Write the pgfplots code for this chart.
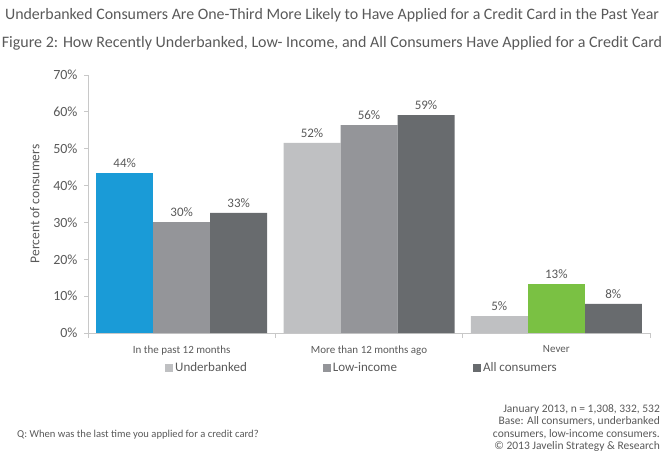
\documentclass[border=0pt]{standalone}
\usepackage{pgfplots}
\pgfplotsset{compat=1.18}
\usepackage{fontspec}
\setmainfont{Carlito}
\definecolor{txt}{RGB}{89,89,89}
\definecolor{ub}{RGB}{191,192,194}
\definecolor{li}{RGB}{148,149,153}
\definecolor{ac}{RGB}{104,107,110}
\definecolor{hb}{RGB}{26,155,215}
\definecolor{hg}{RGB}{122,193,67}
\definecolor{axc}{RGB}{200,200,200}
\begin{document}
\begin{tikzpicture}
\path[use as bounding box] (0,0) rectangle (664bp,-457bp);
\node[anchor=base, text=txt, font=\fontsize{15.9bp}{17bp}\selectfont, inner sep=0pt] at (332bp,-19bp) {Underbanked Consumers Are One-Third More Likely to Have Applied for a Credit Card in the Past Year};
\node[anchor=base, text=txt, font=\fontsize{16bp}{17bp}\selectfont, inner sep=0pt] at (332bp,-47bp) {Figure 2: How Recently Underbanked, Low- Income, and All Consumers Have Applied for a Credit Card};
\begin{axis}[
  at={(88bp,-333bp)}, anchor=south west,
  scale only axis, width=562bp, height=258bp,
  xmin=-0.5, xmax=2.5, ymin=0, ymax=70,
  axis x line*=bottom, axis y line*=left,
  axis line style={axc, line width=1bp, -},
  every tick/.style={axc, line width=1bp},
  tick align=outside,
  major tick length=4bp, minor tick length=5bp,
  ytick={0,10,...,70},
  yticklabel={\pgfmathprintnumber{\tick}\%},
  yticklabel style={font=\fontsize{14bp}{16bp}\selectfont, text=txt, xshift=-3bp},
  xtick={0,1,2},
  xticklabels={In the past 12 months, More than 12 months ago, Never},
  major x tick style={draw=none},
  minor xtick={-0.5,0.5,1.5,2.5},
  xticklabel style={font=\fontsize{11bp}{13bp}\selectfont, text=txt, yshift=-5bp},
  ylabel={Percent of consumers},
  ylabel style={font=\fontsize{13.5bp}{15bp}\selectfont, text=txt, yshift=7bp},
  /pgf/number format/assume math mode=true,
  bar width=57bp,
  nodes near coords,
  point meta=explicit symbolic,
  every node near coord/.append style={font=\fontsize{13bp}{15bp}\selectfont, text=txt, anchor=south, yshift=2bp},
  legend columns=3,
  legend style={at={(0.137,-0.136)}, anchor=west, draw=none, fill=none, inner sep=0pt,
    font=\fontsize{13bp}{15bp}\selectfont, text=txt,
    /tikz/every even column/.append style={column sep=74bp},
    /tikz/every odd column/.append style={column sep=0bp}},
  legend image code/.code={\fill[#1] (0bp,-4bp) rectangle (8bp,4bp);},
]
\addplot[ybar, bar shift=-57bp, fill=ub, draw=none, every node near coord/.append style={xshift=-57bp}] coordinates {(1,51.6) [52\%] (2,4.6) [5\%]};
\addplot[ybar, bar shift=0bp, fill=li, draw=none] coordinates {(0,30.1) [30\%] (1,56.4) [56\%]};
\addplot[ybar, bar shift=57bp, fill=ac, draw=none, every node near coord/.append style={xshift=57bp}] coordinates {(0,32.6) [33\%] (1,59.1) [59\%] (2,7.9) [8\%]};
\addplot[ybar, bar shift=-57bp, fill=hb, draw=none, forget plot, every node near coord/.append style={xshift=-57bp}] coordinates {(0,43.4) [44\%]};
\addplot[ybar, bar shift=0bp, fill=hg, draw=none, forget plot] coordinates {(2,13.3) [13\%]};
\legend{Underbanked, Low-income, All consumers}
\end{axis}
\node[anchor=base west, text=txt, font=\fontsize{10.6bp}{12bp}\selectfont, inner sep=0pt] at (17bp,-437bp) {Q: When was the last time you applied for a credit card?};
\node[anchor=north east, align=right, text=txt, font=\fontsize{11.5bp}{12.5bp}\selectfont, inner sep=0pt] at (660bp,-404bp) {January 2013, n = 1,308, 332, 532\\Base: All consumers, underbanked\\consumers, low-income consumers.\\© 2013 Javelin Strategy \& Research};
\end{tikzpicture}
\end{document}
